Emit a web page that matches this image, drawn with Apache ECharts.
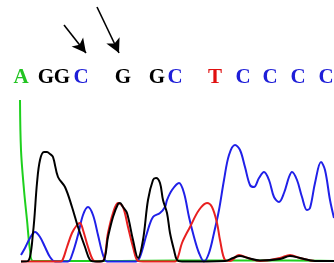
<!DOCTYPE html>
<html>
<head>
<meta charset="utf-8">
<script src="https://cdn.jsdelivr.net/npm/echarts@6/dist/echarts.min.js"></script>
<style>
  html, body { margin: 0; padding: 0; background: #fff; }
  #chart { width: 334px; height: 263px; }
</style>
</head>
<body>
<div id="chart"></div>
<script>
// trace data: [scan position, signal]
let greenTrace = [[20,162],[21,112],[24,72],[27,42],[30,12],[33,1],[60,1],[120,1],[180,1.5],[240,1.5],[290,1.5],[334,1]];
let blackTrace = [[21,0.5],[28,1],[33,29],[37,79],[40,102],[44,110],[47,110],[50,108],[53,105],[58,85],[65,75],[72,55],[78,35],[85,15],[90,2],[95,0.5],[103,1],[108,25],[113,45],[118,58],[120,59],[123,55],[127,49],[133,22],[138,4],[143,22],[148,62],[153,82],[156,84],[160,79],[163,62],[167,49],[170,29],[174,12],[177,2],[182,0.5],[225,1],[233,4],[240,6],[248,4],[260,1.5],[280,3],[290,6],[300,4],[315,1],[334,1]];
let blueTrace = [[21,7],[25,14],[30,24],[35,30],[40,25],[45,15],[50,5],[55,0.5],[68,0.5],[72,7],[78,27],[83,47],[88,55],[93,47],[98,27],[103,7],[107,0.5],[136,0.5],[140,5],[147,29],[153,45],[160,49],[165,55],[167,62],[172,72],[179,79],[184,69],[189,45],[194,25],[199,9],[204,0.5],[209,9],[214,29],[219,52],[224,82],[229,107],[235,117],[240,112],[245,95],[250,77],[254,75],[259,84],[264,90],[269,82],[274,65],[279,60],[284,69],[289,85],[292,90],[297,82],[302,65],[307,52],[310,54],[315,79],[321,100],[325,92],[330,62],[334,44]];
let redTrace = [[21,0.5],[60,0.5],[62,1],[67,15],[72,29],[77,37],[80,39],[83,32],[88,15],[93,2],[97,0.5],[103,1],[108,29],[113,49],[118,59],[123,55],[128,35],[133,15],[138,1],[143,0.5],[175,0.5],[178,5],[182,19],[190,35],[199,52],[207,59],[212,55],[217,39],[220,22],[225,2],[230,1],[239,7],[248,4],[260,1],[280,4],[290,7],[300,4],[315,1],[334,1]];

// base calls
let baseLetters = ['A','G','G','C','G','G','C','T','C','C','C','C'];
let basePositions = [21,46,62,81,123,157,175,215,243,270,298,326];
let baseLevel = 184;

// arrows: [from, to]
let arrows = [[[64,237],[86,209]], [[97,255],[119,209]]];

let baseColors = { A: '#22c422', G: '#000000', C: '#1e1ed8', T: '#e01010' };

let chart = echarts.init(document.getElementById('chart'));

function trace(name, data, color) {
  return {
    name: name,
    type: 'line',
    data: data,
    smooth: 0.35,
    symbol: 'none',
    lineStyle: { color: color, width: 2 },
    z: 2
  };
}

let letterData = baseLetters.map(function (b, i) {
  return {
    value: [basePositions[i], baseLevel],
    label: { color: baseColors[b] }
  };
});

chart.setOption({
  animation: false,
  backgroundColor: '#ffffff',
  grid: { left: 0, right: 0, top: 0, bottom: 1 },
  xAxis: { type: 'value', min: 0, max: 334, show: false },
  yAxis: { type: 'value', min: 0, max: 262, show: false },
  series: [
    trace('G', greenTrace, '#1ed01e'),
    trace('C', blueTrace, '#2020e8'),
    trace('T', redTrace, '#e82020'),
    trace('A', blackTrace, '#000000'),
    {
      name: 'calls',
      type: 'scatter',
      data: letterData,
      symbolSize: 0,
      itemStyle: { opacity: 1 },
      label: {
        show: true,
        position: 'inside',
        formatter: function (p) { return baseLetters[p.dataIndex]; },
        fontFamily: 'Liberation Serif',
        fontWeight: 'bold',
        fontSize: 21
      },
      markLine: {
        silent: true,
        symbol: ['none', 'arrow'],
        symbolSize: [11, 14],
        lineStyle: { color: '#000', width: 1.6, type: 'solid' },
        label: { show: false },
        data: arrows.map(function (a) {
          return [{ coord: a[0] }, { coord: a[1] }];
        })
      }
    }
  ]
});
</script>
</body>
</html>
